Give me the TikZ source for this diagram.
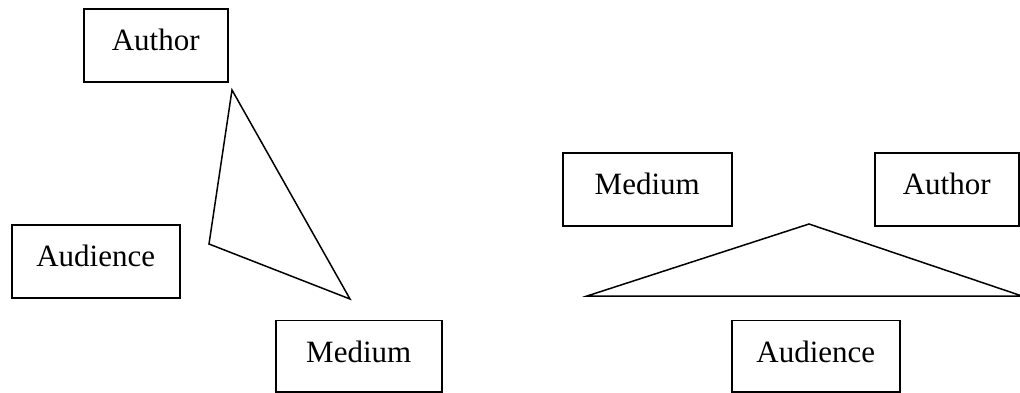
\documentclass[tikz,border=0pt]{standalone}
\usepackage{fontspec}
\setmainfont{Liberation Serif}
\begin{document}
\begin{tikzpicture}[x=1pt,y=-1pt,
  box/.style={draw, line width=1.5pt, anchor=north west, inner sep=0pt,
    text height=42pt, text depth=31pt, font=\fontsize{31}{36}\selectfont},
  lowbox/.style={box, text depth=29.5pt},
  edge/.style={line width=1.5pt, line join=miter}]
\useasboundingbox (0,0) rectangle (1020,392);
% left diagram
\node[box, minimum width=144pt] (authL) at (83,8) {Author};
\node[box, minimum width=168pt] (audL) at (11,224) {Audience};
\node[lowbox, minimum width=166pt] (medL) at (275,319.5) {Medium};
\coordinate (tA) at (232,90);
\coordinate (tB) at (209,244);
\coordinate (tC) at (350,299);
\draw[edge] (tA) -- (tB) -- (tC) -- cycle;
% right diagram
\node[box, minimum width=169pt] (medR) at (562,152) {Medium};
\node[box, minimum width=144pt] (authR) at (874,152) {Author};
\node[lowbox, minimum width=168pt] (audR) at (731,319.5) {Audience};
\coordinate (rA) at (809,224);
\coordinate (rB) at (587,296);
\coordinate (rC) at (1022,296);
\draw[edge] (rA) -- (rB) -- (rC) -- cycle;
\end{tikzpicture}
\end{document}
